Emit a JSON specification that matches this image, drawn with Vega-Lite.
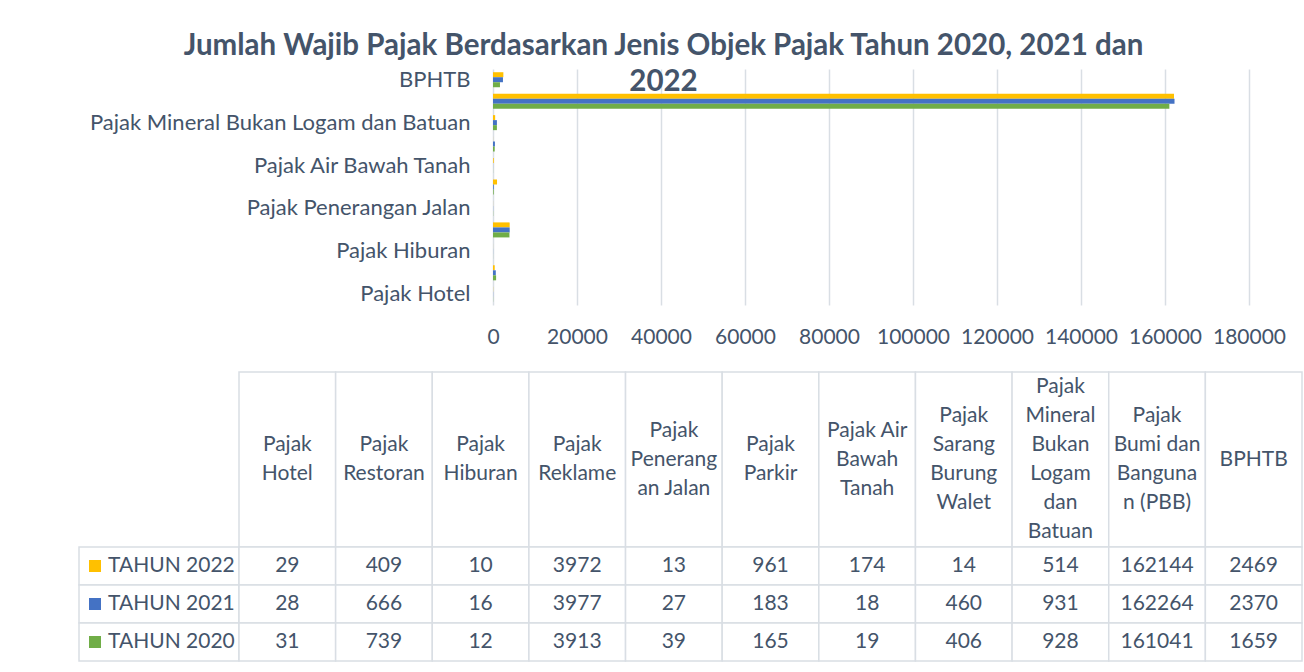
{
  "$schema": "https://vega.github.io/schema/vega-lite/v6.json",
  "background": "white",
  "padding": {"left": 78, "top": 30, "right": 3, "bottom": 11},
  "config": {
    "view": {"stroke": null},
    "font": "Lato",
    "axis": {"labelFont": "Lato", "labelColor": "#44546A", "labelFontSize": 21},
    "text": {"font": "Lato", "color": "#44546A", "fontSize": 21}
  },
  "title": {
    "text": ["Jumlah Wajib Pajak Berdasarkan Jenis Objek Pajak Tahun 2020, 2021 dan", "2022"],
    "font": "Lato",
    "fontSize": 29.5,
    "fontWeight": "bold",
    "color": "#44546A",
    "lineHeight": 36,
    "offset": -29,
    "anchor": "middle",
    "dx": -27
  },
  "datasets": {
    "kolom": [
      {"kategori": "Pajak Hotel", "header": "Pajak\nHotel"},
      {"kategori": "Pajak Restoran", "header": "Pajak\nRestoran"},
      {"kategori": "Pajak Hiburan", "header": "Pajak\nHiburan"},
      {"kategori": "Pajak Reklame", "header": "Pajak\nReklame"},
      {"kategori": "Pajak Penerangan Jalan", "header": "Pajak\nPenerang\nan Jalan"},
      {"kategori": "Pajak Parkir", "header": "Pajak\nParkir"},
      {"kategori": "Pajak Air Bawah Tanah", "header": "Pajak Air\nBawah\nTanah"},
      {"kategori": "Pajak Sarang Burung Walet", "header": "Pajak\nSarang\nBurung\nWalet"},
      {"kategori": "Pajak Mineral Bukan Logam dan Batuan", "header": "Pajak\nMineral\nBukan\nLogam\ndan\nBatuan"},
      {"kategori": "Pajak Bumi dan Bangunan (PBB)", "header": "Pajak\nBumi dan\nBanguna\nn (PBB)"},
      {"kategori": "BPHTB", "header": "BPHTB"}
    ],
    "seri": [
      {"tahun": "TAHUN 2022"},
      {"tahun": "TAHUN 2021"},
      {"tahun": "TAHUN 2020"}
    ],
    "pajak": [
      {"kategori": "Pajak Hotel", "tahun": "TAHUN 2022", "jumlah": 29},
      {"kategori": "Pajak Restoran", "tahun": "TAHUN 2022", "jumlah": 409},
      {"kategori": "Pajak Hiburan", "tahun": "TAHUN 2022", "jumlah": 10},
      {"kategori": "Pajak Reklame", "tahun": "TAHUN 2022", "jumlah": 3972},
      {"kategori": "Pajak Penerangan Jalan", "tahun": "TAHUN 2022", "jumlah": 13},
      {"kategori": "Pajak Parkir", "tahun": "TAHUN 2022", "jumlah": 961},
      {"kategori": "Pajak Air Bawah Tanah", "tahun": "TAHUN 2022", "jumlah": 174},
      {"kategori": "Pajak Sarang Burung Walet", "tahun": "TAHUN 2022", "jumlah": 14},
      {"kategori": "Pajak Mineral Bukan Logam dan Batuan", "tahun": "TAHUN 2022", "jumlah": 514},
      {"kategori": "Pajak Bumi dan Bangunan (PBB)", "tahun": "TAHUN 2022", "jumlah": 162144},
      {"kategori": "BPHTB", "tahun": "TAHUN 2022", "jumlah": 2469},
      {"kategori": "Pajak Hotel", "tahun": "TAHUN 2021", "jumlah": 28},
      {"kategori": "Pajak Restoran", "tahun": "TAHUN 2021", "jumlah": 666},
      {"kategori": "Pajak Hiburan", "tahun": "TAHUN 2021", "jumlah": 16},
      {"kategori": "Pajak Reklame", "tahun": "TAHUN 2021", "jumlah": 3977},
      {"kategori": "Pajak Penerangan Jalan", "tahun": "TAHUN 2021", "jumlah": 27},
      {"kategori": "Pajak Parkir", "tahun": "TAHUN 2021", "jumlah": 183},
      {"kategori": "Pajak Air Bawah Tanah", "tahun": "TAHUN 2021", "jumlah": 18},
      {"kategori": "Pajak Sarang Burung Walet", "tahun": "TAHUN 2021", "jumlah": 460},
      {"kategori": "Pajak Mineral Bukan Logam dan Batuan", "tahun": "TAHUN 2021", "jumlah": 931},
      {"kategori": "Pajak Bumi dan Bangunan (PBB)", "tahun": "TAHUN 2021", "jumlah": 162264},
      {"kategori": "BPHTB", "tahun": "TAHUN 2021", "jumlah": 2370},
      {"kategori": "Pajak Hotel", "tahun": "TAHUN 2020", "jumlah": 31},
      {"kategori": "Pajak Restoran", "tahun": "TAHUN 2020", "jumlah": 739},
      {"kategori": "Pajak Hiburan", "tahun": "TAHUN 2020", "jumlah": 12},
      {"kategori": "Pajak Reklame", "tahun": "TAHUN 2020", "jumlah": 3913},
      {"kategori": "Pajak Penerangan Jalan", "tahun": "TAHUN 2020", "jumlah": 39},
      {"kategori": "Pajak Parkir", "tahun": "TAHUN 2020", "jumlah": 165},
      {"kategori": "Pajak Air Bawah Tanah", "tahun": "TAHUN 2020", "jumlah": 19},
      {"kategori": "Pajak Sarang Burung Walet", "tahun": "TAHUN 2020", "jumlah": 406},
      {"kategori": "Pajak Mineral Bukan Logam dan Batuan", "tahun": "TAHUN 2020", "jumlah": 928},
      {"kategori": "Pajak Bumi dan Bangunan (PBB)", "tahun": "TAHUN 2020", "jumlah": 161041},
      {"kategori": "BPHTB", "tahun": "TAHUN 2020", "jumlah": 1659}
    ]
  },
  "columns": 1,
  "bounds": "flush",
  "spacing": 67,
  "concat": [
    {
      "width": 1170,
      "height": 236,
      "data": {"name": "pajak"},
      "mark": {"type": "bar"},
      "encoding": {
        "y": {
          "field": "kategori",
          "type": "nominal",
          "scale": {
            "domain": ["BPHTB", "Pajak Bumi dan Bangunan (PBB)", "Pajak Mineral Bukan Logam dan Batuan", "Pajak Sarang Burung Walet", "Pajak Air Bawah Tanah", "Pajak Parkir", "Pajak Penerangan Jalan", "Pajak Reklame", "Pajak Hiburan", "Pajak Restoran", "Pajak Hotel"],
            "paddingInner": 0.3,
            "paddingOuter": 0.15
          },
          "axis": {
            "values": ["BPHTB", "Pajak Mineral Bukan Logam dan Batuan", "Pajak Air Bawah Tanah", "Pajak Penerangan Jalan", "Pajak Hiburan", "Pajak Hotel"],
            "title": null,
            "ticks": false,
            "domain": false,
            "offset": -414,
            "labelPadding": 23,
            "labelFontSize": 22,
            "labelLimit": 600
          }
        },
        "yOffset": {
          "field": "tahun",
          "type": "nominal",
          "scale": {"domain": ["TAHUN 2022", "TAHUN 2021", "TAHUN 2020"]}
        },
        "x": {
          "field": "jumlah",
          "type": "quantitative",
          "scale": {"domain": [-98571.43, 180000], "nice": false, "zero": false},
          "axis": {
            "values": [0, 20000, 40000, 60000, 80000, 100000, 120000, 140000, 160000, 180000],
            "format": "d",
            "title": null,
            "grid": true,
            "gridColor": "#D9DEE4",
            "gridWidth": 1.5,
            "ticks": false,
            "domain": false,
            "labelPadding": 21,
            "labelFlush": false
          }
        },
        "color": {
          "field": "tahun",
          "type": "nominal",
          "scale": {"domain": ["TAHUN 2022", "TAHUN 2021", "TAHUN 2020"], "range": ["#FFC000", "#4472C4", "#70AD47"]},
          "legend": null
        }
      }
    },
    {
      "columns": 2,
      "spacing": 0,
      "bounds": "flush",
      "concat": [
        {
          "width": 160,
          "height": 175,
          "data": {"values": [{"a": 1}]},
          "mark": {"type": "point", "opacity": 0},
          "encoding": {}
        },
        {
          "width": 1063,
          "height": 175,
          "data": {"name": "kolom"},
          "encoding": {
            "x": {
              "field": "kategori",
              "type": "nominal",
              "scale": {
                "domain": ["Pajak Hotel", "Pajak Restoran", "Pajak Hiburan", "Pajak Reklame", "Pajak Penerangan Jalan", "Pajak Parkir", "Pajak Air Bawah Tanah", "Pajak Sarang Burung Walet", "Pajak Mineral Bukan Logam dan Batuan", "Pajak Bumi dan Bangunan (PBB)", "BPHTB"],
                "paddingInner": 0,
                "paddingOuter": 0
              },
              "axis": null
            }
          },
          "layer": [
            {"mark": {"type": "rect", "fill": "white", "stroke": "#D9DEE4", "strokeWidth": 1.5}},
            {
              "mark": {
                "type": "text",
                "lineBreak": "\n",
                "lineHeight": 29,
                "baseline": "middle",
                "align": "center",
                "dy": {"expr": "-14.5 * (length(split(datum.header, '\\n')) - 1)"}
              },
              "encoding": {"text": {"field": "header", "type": "nominal"}}
            }
          ]
        },
        {
          "width": 160,
          "height": 114,
          "data": {"name": "seri"},
          "encoding": {
            "y": {
              "field": "tahun",
              "type": "nominal",
              "scale": {"domain": ["TAHUN 2022", "TAHUN 2021", "TAHUN 2020"], "paddingInner": 0, "paddingOuter": 0},
              "axis": null
            }
          },
          "layer": [
            {"mark": {"type": "rect", "fill": "white", "stroke": "#D9DEE4", "strokeWidth": 1.5}},
            {
              "mark": {"type": "point", "shape": "square", "filled": true, "size": 144, "opacity": 1, "xOffset": -64},
              "encoding": {
                "color": {
                  "field": "tahun",
                  "type": "nominal",
                  "scale": {"domain": ["TAHUN 2022", "TAHUN 2021", "TAHUN 2020"], "range": ["#FFC000", "#4472C4", "#70AD47"]},
                  "legend": null
                }
              }
            },
            {
              "mark": {"type": "text", "align": "left", "baseline": "middle", "dx": -51},
              "encoding": {"text": {"field": "tahun", "type": "nominal"}}
            }
          ]
        },
        {
          "width": 1063,
          "height": 114,
          "data": {"name": "pajak"},
          "encoding": {
            "x": {
              "field": "kategori",
              "type": "nominal",
              "scale": {
                "domain": ["Pajak Hotel", "Pajak Restoran", "Pajak Hiburan", "Pajak Reklame", "Pajak Penerangan Jalan", "Pajak Parkir", "Pajak Air Bawah Tanah", "Pajak Sarang Burung Walet", "Pajak Mineral Bukan Logam dan Batuan", "Pajak Bumi dan Bangunan (PBB)", "BPHTB"],
                "paddingInner": 0,
                "paddingOuter": 0
              },
              "axis": null
            },
            "y": {
              "field": "tahun",
              "type": "nominal",
              "scale": {"domain": ["TAHUN 2022", "TAHUN 2021", "TAHUN 2020"], "paddingInner": 0, "paddingOuter": 0},
              "axis": null
            }
          },
          "layer": [
            {"mark": {"type": "rect", "fill": "white", "stroke": "#D9DEE4", "strokeWidth": 1.5}},
            {
              "mark": {"type": "text", "align": "center", "baseline": "middle"},
              "encoding": {"text": {"field": "jumlah", "type": "quantitative", "format": "d"}}
            }
          ]
        }
      ]
    }
  ]
}
